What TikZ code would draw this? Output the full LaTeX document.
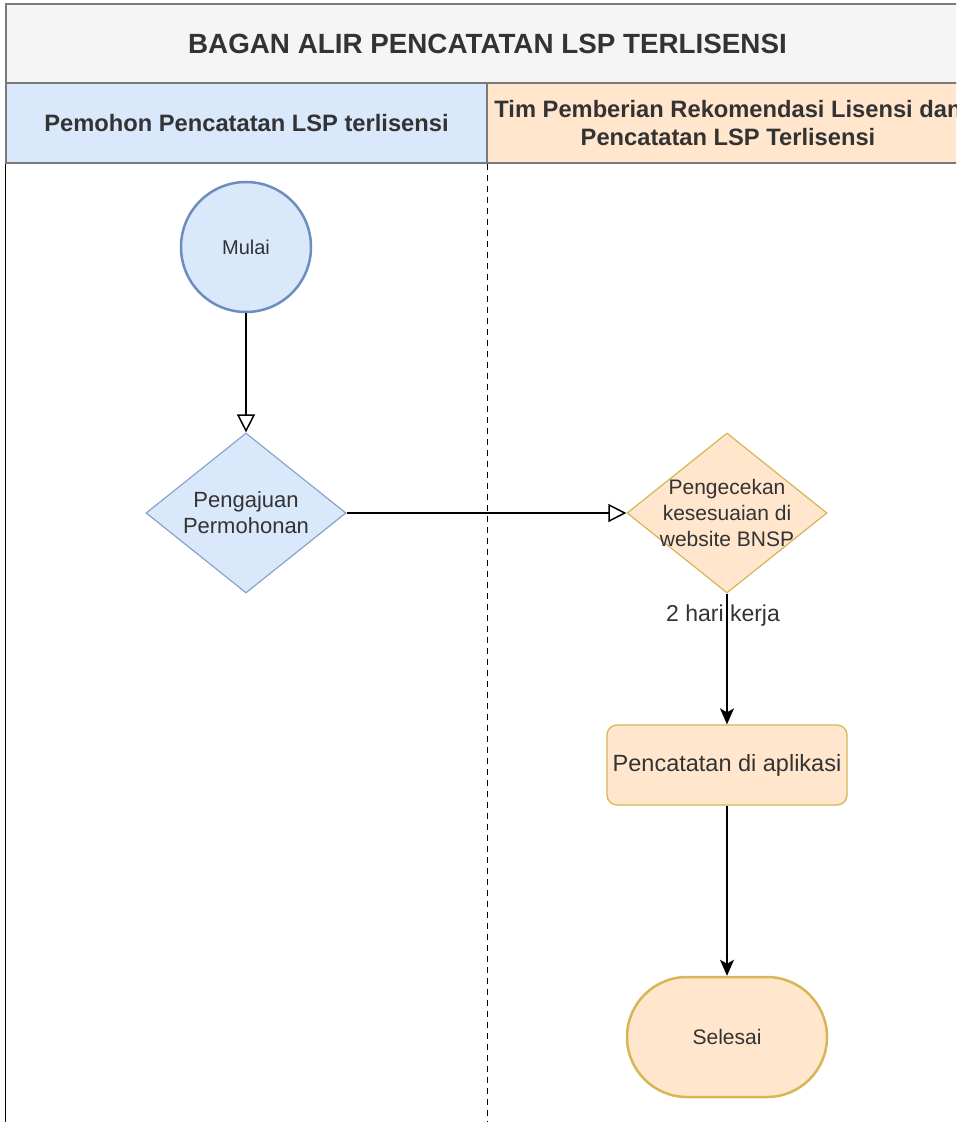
\documentclass[tikz,border=0pt]{standalone}
\usepackage{fontspec}
\setmainfont{Liberation Sans}
\usetikzlibrary{arrows.meta,shapes.geometric,positioning}

\definecolor{blueFill}{HTML}{DAE8FC}
\definecolor{blueLine}{HTML}{6C8EBF}
\definecolor{orangeFill}{HTML}{FFE6CC}
\definecolor{orangeLine}{HTML}{D6B656}
\definecolor{titleFill}{HTML}{F5F5F5}
\definecolor{headLine}{HTML}{7A7A7A}
\definecolor{inkGray}{HTML}{333333}

\tikzset{
    titlebox/.style={draw=headLine, line width=1.2pt, fill=titleFill, minimum width=963pt, minimum height=79pt, inner sep=0pt, text=inkGray, font=\bfseries\fontsize{27.8}{33}\selectfont},
    lanehead/.style={draw=headLine, line width=1.2pt, minimum height=80pt, inner sep=0pt, align=center, text=inkGray, font=\bfseries\fontsize{23.7}{28}\selectfont},
    startnode/.style={circle, draw=blueLine, line width=2.5pt, fill=blueFill, minimum size=130pt, inner sep=0pt, text=inkGray, font=\fontsize{20}{24}\selectfont},
    diamnode/.style={diamond, line width=1.2pt, minimum width=200pt, minimum height=160pt, inner sep=0pt},
    labeltext/.style={align=center, inner sep=0pt, text=inkGray},
    procbox/.style={rectangle, rounded corners=10pt, draw=orangeLine, line width=1.3pt, fill=orangeFill, minimum width=240pt, minimum height=80pt, inner sep=0pt, text=inkGray, font=\fontsize{23.5}{28}\selectfont},
    endnode/.style={rectangle, rounded corners=60pt, draw=orangeLine, line width=2.5pt, fill=orangeFill, minimum width=200pt, minimum height=120pt, inner sep=0pt, text=inkGray, font=\fontsize{21}{25}\selectfont},
    openarrow/.style={line width=1.5pt, -{Triangle[open, length=18pt, width=18pt]}},
    solidarrow/.style={line width=1.5pt, -{Stealth[length=16pt, width=14pt, inset=4pt]}}
}

\begin{document}
\begin{tikzpicture}[x=1pt,y=-1pt]

        % Fix picture size.
        \useasboundingbox (0,0) rectangle (956,1122);
        \clip (0,0) rectangle (956,1122);

        % Draw pool title and lane headers.
        \node[titlebox] (title) at (487.5,43.5) {BAGAN ALIR PENCATATAN LSP TERLISENSI};
        \node[lanehead, fill=blueFill, minimum width=481pt] (laneA) at (246.5,123)
            {Pemohon Pencatatan LSP terlisensi};
        \node[lanehead, fill=orangeFill, minimum width=482pt] (laneB) at (728,123)
            {Tim Pemberian Rekomendasi Lisensi dan\\Pencatatan LSP Terlisensi};

        % Draw lane borders.
        \draw[line width=1.5pt] (laneA.south west) -- ++(0,965);
        \draw[line width=1.3pt, dash pattern=on 6pt off 5pt] (laneA.south east) -- ++(0,965);

        % Draw steps.
        \node[startnode] (start) at (246,247) {Mulai};

        \node[diamnode, draw=blueLine!80, fill=blueFill] (apply) at (246,513) {};
            \node[labeltext, font=\fontsize{22}{26}\selectfont] (apply-txt) at (apply) {Pengajuan\\Permohonan};

        \node[diamnode, draw=orangeLine, fill=orangeFill] (check) at (727,513) {};
            \node[labeltext, font=\fontsize{21}{26}\selectfont] (check-txt) at (check) {Pengecekan\\kesesuaian di\\website BNSP};

        \node[procbox] (record) at (727,765) {Pencatatan di aplikasi};
        \node[endnode] (finish) at (727,1037) {Selesai};

        % Draw connectors.
        \draw[openarrow] (start) -- (apply);
        \draw[openarrow] (apply) -- (check);
        \draw[solidarrow] (check) -- node[pos=0.17, text=inkGray, font=\fontsize{23}{27}\selectfont, xshift=-4pt] (days) {2 hari kerja} (record);
        \draw[solidarrow] (record) -- (finish);
    \end{tikzpicture}
\end{document}
